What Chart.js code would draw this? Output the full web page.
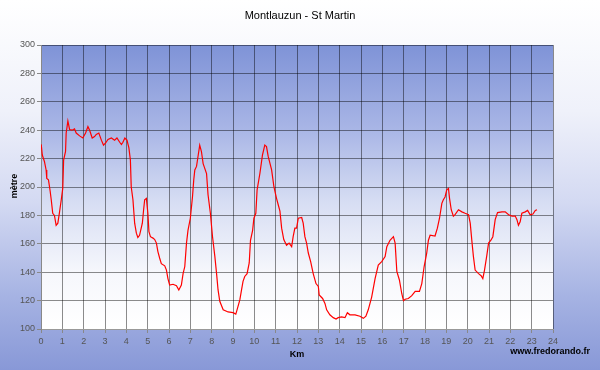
<!DOCTYPE html>
<html>
<head>
<meta charset="utf-8">
<script src="https://cdn.jsdelivr.net/npm/chart.js@4/dist/chart.umd.min.js"></script>
<style>
html,body{margin:0;padding:0;background:#fff;}
canvas{display:block;}
</style>
</head>
<body>
<canvas id="c" width="600" height="370"></canvas>
<script>
const chartTitle = "Montlauzun - St Martin";
const xTitle = "Km";
const yTitle = "mètre";
const siteText = "www.fredorando.fr";

const km = [0.01,0.06,0.16,0.24,0.27,0.35,0.43,0.48,0.55,0.63,0.71,0.79,0.87,0.95,1.02,1.06,1.15,1.18,1.26,1.34,
1.46,1.57,1.65,1.81,1.96,2.09,2.20,2.28,2.40,2.51,2.59,2.71,2.83,2.93,3.03,3.14,3.30,3.45,3.56,3.69,
3.77,3.84,3.93,4.03,4.12,4.19,4.23,4.31,4.39,4.47,4.54,4.62,4.75,4.81,4.86,4.94,5.01,5.06,5.13,5.25,
5.33,5.41,5.48,5.56,5.64,5.80,5.88,5.95,6.03,6.19,6.35,6.46,6.58,6.66,6.74,6.82,6.89,7.00,7.10,7.16,
7.21,7.29,7.36,7.44,7.52,7.60,7.76,7.83,7.94,8.04,8.15,8.23,8.30,8.38,8.54,8.77,9.00,9.13,9.19,9.32,
9.40,9.47,9.55,9.66,9.76,9.82,9.92,9.98,10.07,10.13,10.26,10.38,10.49,10.57,10.65,10.81,10.92,11.04,11.12,11.20,
11.28,11.38,11.51,11.63,11.75,11.82,11.90,11.98,12.06,12.22,12.29,12.37,12.45,12.53,12.64,12.76,12.89,13.00,13.04,13.20,
13.31,13.39,13.54,13.70,13.83,13.93,14.09,14.25,14.36,14.48,14.72,14.95,15.11,15.23,15.34,15.50,15.66,15.81,15.97,16.13,
16.21,16.36,16.52,16.60,16.68,16.80,16.91,16.99,17.07,17.22,17.38,17.54,17.74,17.85,17.96,18.08,18.16,18.24,18.47,18.58,
18.68,18.79,18.86,18.94,19.02,19.10,19.15,19.23,19.33,19.41,19.57,19.73,19.88,20.04,20.12,20.20,20.27,20.35,20.51,20.63,
20.71,20.79,20.90,20.98,21.09,21.18,21.29,21.40,21.61,21.76,21.92,22.08,22.23,22.31,22.38,22.46,22.54,22.70,22.81,22.93,
23.06,23.17,23.25];

const altitude = [230,222.5,218,212,206,205,197,191,181.5,180,173,174.5,182.5,191,199,219,225,238,246.5,240.5,
240,241,238,236,234.5,238,242.5,240,234.5,235.5,237,238,233,229.5,231,233.5,234.5,233,234.5,231.5,
230,231.5,234.5,233,227.5,219,200,191,174.5,167.5,164.5,166,174.5,184,191,192,181.5,168.5,165,164,
163,160.5,154.5,150,146,144.5,141.5,135.5,131,131.5,130.5,127.5,131,139,144,160.5,169.5,178,193,205,
212,214.5,221.5,229.5,225,216.5,209.5,194.5,181.5,165,151,139,127.5,119.5,113.5,112,111.5,110.5,113.5,120.5,
127.5,133.5,137,139,146.5,162.5,169.5,178,181.5,198,209.5,222.5,229.5,228.5,221.5,212,200,192,187.5,183,
171,163,159,160.5,158,165,171,171,178,178.5,174.5,165,160.5,153.5,147.5,139,132,130,124,121.5,
118,113.5,110,108,107,108,108.5,108,111.5,110,110,109,107.5,109,113.5,122.5,135.5,145,147.5,151,
158,162.5,165,160.5,140.5,134.5,125,120,121,121.5,123.5,126.5,126.5,132,144,153.5,162.5,166,165.5,171,
178,188.5,191,193,198,199,192,184,179.5,180.5,184,182.5,181.5,180.5,174.5,161.5,151,141.5,139,137.5,
135.5,141.5,152,160.5,162.5,165,177,182,182.5,182.5,180.5,179.5,179.5,177,173,175.5,181.5,182.5,183.5,180.5,
181,183.5,184];

const xMin = 0, xMax = 24, xStep = 1;
const yMin = 100, yMax = 300, yStep = 20;

const points = km.map((k, i) => ({x: k, y: altitude[i]}));

const FONT = "'Liberation Sans', Arial, sans-serif";

const bgPlugin = {
  id: 'bg',
  beforeDraw(chart) {
    const ctx = chart.ctx, W = chart.width, H = chart.height;
    ctx.save();
    const g = ctx.createLinearGradient(0, 0, 0, H);
    g.addColorStop(0, '#ffffff');
    g.addColorStop(0.3, '#eff1fa');
    g.addColorStop(0.55, '#d3d9f2');
    g.addColorStop(0.8, '#a6b3e3');
    g.addColorStop(1, '#8898d7');
    ctx.fillStyle = g;
    ctx.fillRect(0, 0, W, H);
    const a = chart.chartArea;
    const g2 = ctx.createLinearGradient(0, a.top, 0, a.bottom);
    g2.addColorStop(0, '#7f93d7');
    g2.addColorStop(0.3, '#a9b6e6');
    g2.addColorStop(0.55, '#d6ddf3');
    g2.addColorStop(0.8, '#f6f7fc');
    g2.addColorStop(1, '#ffffff');
    ctx.fillStyle = g2;
    ctx.fillRect(a.left, a.top, a.right - a.left, a.bottom - a.top);
    ctx.restore();
  },
  afterDraw(chart) {
    const ctx = chart.ctx;
    ctx.save();
    ctx.fillStyle = '#000';
    ctx.textBaseline = 'middle';
    ctx.textAlign = 'center';
    ctx.font = '11px ' + FONT;
    ctx.fillText(chartTitle, 300, 16);
    ctx.font = 'bold 9px ' + FONT;
    ctx.fillText(xTitle, 297, 355);
    ctx.textAlign = 'right';
    ctx.fillText(siteText, 590, 352);
    ctx.translate(15, 186);
    ctx.rotate(-Math.PI / 2);
    ctx.textAlign = 'center';
    ctx.fillText(yTitle, 0, 0);
    ctx.restore();
  }
};

new Chart(document.getElementById('c'), {
  type: 'line',
  data: {
    datasets: [{
      data: points,
      borderColor: '#ff0000',
      borderWidth: 1.2,
      pointRadius: 0,
      tension: 0,
      fill: false
    }]
  },
  options: {
    responsive: false,
    animation: false,
    layout: {padding: {top: 45, right: 47, left: 0, bottom: 0}},
    plugins: {legend: {display: false}, tooltip: {enabled: false}, title: {display: false}},
    scales: {
      x: {
        type: 'linear', min: xMin, max: xMax,
        afterFit(s) { s.height = 41; },
        ticks: {stepSize: xStep, color: '#555', font: {family: FONT, size: 9}, padding: 3, maxRotation: 0, autoSkip: false},
        grid: {color: 'rgba(0,0,0,0.45)', lineWidth: 1, tickLength: 4, tickColor: '#888'},
        border: {display: true, color: '#999'}
      },
      y: {
        type: 'linear', min: yMin, max: yMax,
        afterFit(s) { s.width = 41; },
        ticks: {stepSize: yStep, color: '#555', font: {family: FONT, size: 9}, padding: 2},
        grid: {color: 'rgba(0,0,0,0.45)', lineWidth: 1, tickLength: 4, tickColor: '#888'},
        border: {display: true, color: '#888'}
      }
    }
  },
  plugins: [bgPlugin]
});
</script>
</body>
</html>
